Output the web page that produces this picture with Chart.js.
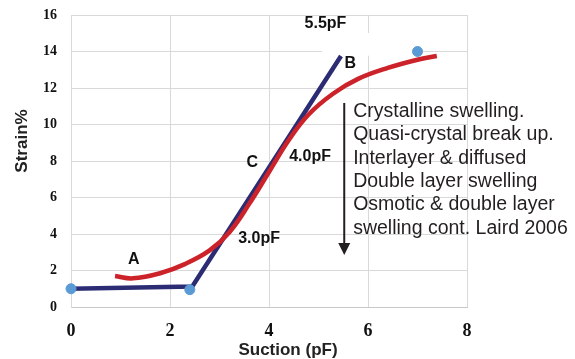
<!DOCTYPE html>
<html>
<head>
<meta charset="utf-8">
<script src="https://cdn.jsdelivr.net/npm/chart.js@4.4.1/dist/chart.umd.min.js"></script>
<style>
  html, body { margin: 0; padding: 0; background: #fff; }
  #wrap { width: 575px; height: 359px; }
</style>
</head>
<body>
<div id="wrap"><canvas id="myChart" width="575" height="359"></canvas></div>
<script>
// measured points
const dotX = [0, 2.4, 7.0];
const dotY = [1.0, 0.95, 14.0];

// linear fit: flat part then steep part
const lineX = [0, 2.45, 5.43];
const lineY = [1.0, 1.12, 13.65];

// swelling curve
const curveX = [0.89, 1.25, 1.8, 2.3, 2.8, 3.2, 3.6, 4.0, 4.4, 4.8, 5.3, 5.8, 6.4, 7.0, 7.39];
const curveY = [1.70, 1.57, 1.85, 2.35, 3.1, 4.1, 5.65, 7.4, 9.15, 10.55, 11.7, 12.5, 13.1, 13.55, 13.75];

const xTicks = [0, 2, 4, 6, 8];
const yTicks = [0, 2, 4, 6, 8, 10, 12, 14, 16];

const notes = [
  "Crystalline swelling.",
  "Quasi-crystal break up.",
  "Interlayer & diffused",
  "Double layer swelling",
  "Osmotic & double layer",
  "swelling cont. Laird 2006",
];

const pts = (xs, ys) => xs.map((x, i) => ({ x: x, y: ys[i] }));

const SANS = "'Liberation Sans', Arial, sans-serif";
const SERIF = "'Liberation Serif', 'Times New Roman', serif";
const INK = "#231f20";

// labels placed in data units
const tags = [
  { text: "A", x: 1.27, y: 2.58 },
  { text: "B", x: 5.64, y: 13.32 },
  { text: "C", x: 3.66, y: 7.89 },
  { text: "5.5pF", x: 5.14, y: 15.51 },
  { text: "4.0pF", x: 4.83, y: 8.22 },
  { text: "3.0pF", x: 3.80, y: 3.73 },
];

const extras = {
  id: "extras",
  beforeDatasetsDraw(chart) {
    const { ctx, scales: { x, y } } = chart;
    // white box behind the 5.5pF label
    ctx.save();
    ctx.fillStyle = "#fff";
    const x0 = x.getPixelForValue(5.07), x1 = x.getPixelForValue(6.95);
    const y0 = y.getPixelForValue(15.01), y1 = y.getPixelForValue(13.77);
    ctx.fillRect(x0, y0, x1 - x0, y1 - y0);
    ctx.restore();
  },
  afterDraw(chart) {
    const { ctx, scales: { x, y } } = chart;
    ctx.save();

    // axis titles
    ctx.fillStyle = "#222";
    ctx.font = "bold 17px " + SANS;
    ctx.textAlign = "center";
    ctx.textBaseline = "middle";
    ctx.fillText("Suction (pF)", 288, 350);
    ctx.save();
    ctx.translate(22.5, 141);
    ctx.rotate(-Math.PI / 2);
    ctx.fillText("Strain%", 0, 0);
    ctx.restore();

    // letter / pF tags
    ctx.fillStyle = "#111";
    ctx.font = "bold 16px " + SANS;
    tags.forEach(t => ctx.fillText(t.text, x.getPixelForValue(t.x), y.getPixelForValue(t.y)));

    // downward arrow
    const ax = x.getPixelForValue(5.52);
    const top = y.getPixelForValue(11.18);
    const tip = y.getPixelForValue(2.85);
    ctx.strokeStyle = INK;
    ctx.fillStyle = INK;
    ctx.lineWidth = 2;
    ctx.beginPath();
    ctx.moveTo(ax, top);
    ctx.lineTo(ax, tip - 10);
    ctx.stroke();
    ctx.beginPath();
    ctx.moveTo(ax - 6, tip - 12);
    ctx.lineTo(ax + 6, tip - 12);
    ctx.lineTo(ax, tip);
    ctx.closePath();
    ctx.fill();

    // swelling stages text
    ctx.font = "19.5px " + SANS;
    ctx.textAlign = "left";
    const tx = x.getPixelForValue(5.70);
    const ty = y.getPixelForValue(10.70);
    notes.forEach((line, i) => ctx.fillText(line, tx, ty + i * 23.3));

    ctx.restore();
  },
};

new Chart(document.getElementById("myChart"), {
  type: "scatter",
  data: {
    datasets: [
      {
        label: "points",
        data: pts(dotX, dotY),
        backgroundColor: "#5b9bd5",
        borderColor: "#5b9bd5",
        pointRadius: 5,
        showLine: false,
        clip: false,
        order: 0,
      },
      {
        label: "curve",
        data: pts(curveX, curveY),
        showLine: true,
        borderColor: "#cc2229",
        borderWidth: 4.5,
        pointRadius: 0,
        tension: 0.4,
        order: 1,
      },
      {
        label: "fit",
        data: pts(lineX, lineY),
        showLine: true,
        borderColor: "#2b2c74",
        borderWidth: 4.5,
        borderCapStyle: "square",
        pointRadius: 0,
        tension: 0,
        clip: false,
        order: 2,
      },
    ],
  },
  options: {
    responsive: false,
    animation: false,
    devicePixelRatio: 1,
    layout: { padding: { left: 0, right: 108, top: 15, bottom: 0 } },
    plugins: {
      legend: { display: false },
      tooltip: { enabled: false },
    },
    scales: {
      x: {
        type: "linear",
        min: 0,
        max: 8,
        afterBuildTicks: s => { s.ticks = xTicks.map(v => ({ value: v })); },
        afterFit: s => { s.height = 52; },
        grid: { color: "#d9d9d9", drawTicks: false },
        border: { color: "#c8c8c8" },
        ticks: {
          color: "#111",
          padding: 14,
          font: { family: SERIF, weight: "bold", size: 18 },
        },
      },
      y: {
        type: "linear",
        min: 0,
        max: 16,
        afterBuildTicks: s => { s.ticks = yTicks.map(v => ({ value: v })); },
        afterFit: s => {
          s.width = 71;
          s.paddingTop = 0;
          s.paddingBottom = 0;
        },
        grid: { color: "#d9d9d9", drawTicks: false },
        border: { color: "#d9d9d9" },
        ticks: {
          color: "#111",
          padding: 14,
          font: { family: SERIF, weight: "bold", size: 14 },
        },
      },
    },
  },
  plugins: [extras],
});
</script>
</body>
</html>
